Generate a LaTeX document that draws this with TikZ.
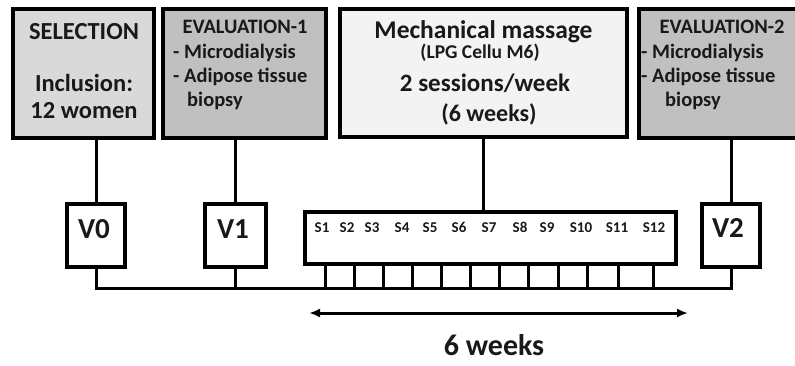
\documentclass[tikz,border=0pt]{standalone}
\usepackage{fontspec}
\setmainfont{Carlito}
\usetikzlibrary{arrows.meta}
\definecolor{selgray}{RGB}{217,217,217}
\definecolor{evalgray}{RGB}{192,192,192}
\definecolor{massgray}{RGB}{243,243,243}
\definecolor{inkdark}{RGB}{25,25,25}

\begin{document}
\begin{tikzpicture}[x=1pt,y=-1pt,
    topbox/.style={draw=black,line width=3.6pt,inner sep=0pt},
    visitbox/.style={draw=black,line width=3.6pt,fill=white,inner sep=0pt,minimum height=63pt},
    conn/.style={draw=black,line width=3pt},
    txt/.style={text=inkdark,font=\bfseries\fontsize{#1}{#1}\selectfont,inner sep=0pt},
    txt/.default=20.5]
  \useasboundingbox (0,0) rectangle (795,365);

  % top boxes
  \node[topbox,fill=selgray,minimum width=141.5pt,minimum height=129.5pt] (sel) at (83.5,73.5) {};
  \node[topbox,fill=evalgray,minimum width=163.5pt,minimum height=129.5pt] (evA) at (244.5,73.5) {};
  \node[topbox,fill=massgray,minimum width=287.5pt,minimum height=128pt] (mass) at (483.5,72.8) {};
  \node[topbox,fill=evalgray,minimum width=161.5pt,minimum height=129.5pt] (evB) at (719.5,73.5) {};

  \node[txt=24.5,anchor=base] (selA) at (84,39) {SELECTION};
  \node[txt=24.5,anchor=base] (selB) at (84,91) {Inclusion:};
  \node[txt=24.5,anchor=base] (selC) at (84,118) {12 women};

  \node[txt,anchor=base] (evAa) at (245,33) {EVALUATION-1};
  \node[txt,anchor=base west] (evAb) at (173,58) {- Microdialysis};
  \node[txt,anchor=base west] (evAc) at (173,82) {- Adipose tissue};
  \node[txt,anchor=base west] (evAd) at (187,106) {biopsy};

  \node[txt=25.5,anchor=base] (massA) at (483.5,38) {Mechanical massage};
  \node[txt=19.5,anchor=base] (massB) at (480,58) {(LPG Cellu M6)};
  \node[txt=25,anchor=base] (massC) at (485,91) {2 sessions/week};
  \node[txt=24,anchor=base] (massD) at (489,121) {(6 weeks)};

  \node[txt,anchor=base] (evBa) at (722,33) {EVALUATION-2};
  \node[txt,anchor=base west] (evBb) at (641,58) {- Microdialysis};
  \node[txt,anchor=base west] (evBc) at (641,82) {- Adipose tissue};
  \node[txt,anchor=base west] (evBd) at (665,106) {biopsy};

  % visits and sessions
  \node[visitbox,minimum width=58.5pt] (v0) at (96,235.5) {};
  \node[visitbox,minimum width=61.5pt] (v1) at (235.5,235.5) {};
  \node[visitbox,minimum width=58.5pt] (v2) at (731,235.5) {};
  \node[txt=29,anchor=base] (v0t) at (94,238) {V0};
  \node[txt=29,anchor=base] (v1t) at (233,238) {V1};
  \node[txt=29,anchor=base] (v2t) at (728,237) {V2};

  \node[visitbox,minimum width=371.5pt,minimum height=52.5pt] (sess) at (490.5,238) {};
  \foreach \x/\s in {322/1,347/2,372/3,402/4,430/5,459/6,489/7,520/8,547/9,581/10,617/11,654/12}
    \node[txt=15,anchor=base] (s\s) at (\x,232) {S\s};

  % connectors
  \draw[conn] (v0.north) -- (v0.north |- sel.south);
  \draw[conn] (v1.north) -- (v1.north |- evA.south);
  \draw[conn] (mass.south) -- (mass.south |- sess.north);
  \draw[conn] (v2.north) -- (v2.north |- evB.south);

  \coordinate (base) at (400,288);
  \draw[conn] (v0.south) |- (base) -| (v2.south);
  \draw[conn] (v1.south) -- (v1.south |- base);
  \foreach \x in {325,354,383,412,441,470,499,528,558,587,618,653}
    \draw[conn] (sess.south -| \x,0) -- (base -| \x,0);

  % duration
  \coordinate (wkL) at (309,313);
  \coordinate (wkR) at (688,313);
  \draw[conn,{Latex[length=11pt,width=9pt]}-{Latex[length=11pt,width=9pt]}] (wkL) -- (wkR);
  \node[txt=30,anchor=base] (wk) at (494,355) {6 weeks};
\end{tikzpicture}
\end{document}
